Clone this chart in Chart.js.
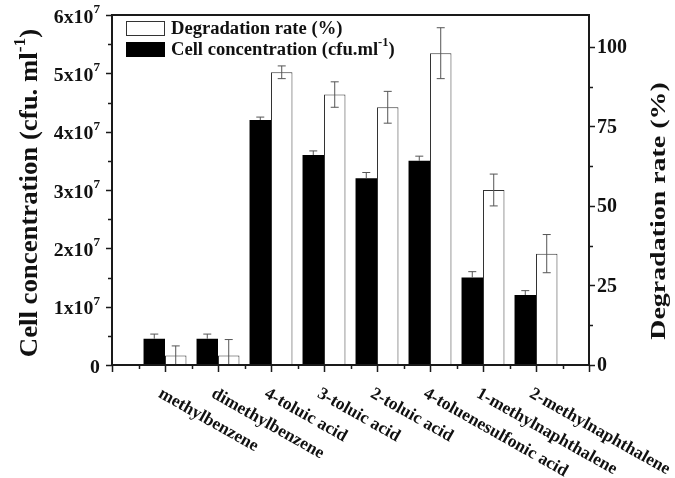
<!DOCTYPE html>
<html>
<head>
<meta charset="utf-8">
<script src="https://cdn.jsdelivr.net/npm/chart.js@4.4.1/dist/chart.umd.min.js"></script>
<style>
  body { margin: 0; background: #fff; }
  canvas { display: block; }
</style>
</head>
<body>
<canvas id="degChart" width="675" height="478"></canvas>
<script>
const categories = ['methylbenzene', 'dimethylbenzene', '4-toluic acid', '3-toluic acid',
    '2-toluic acid', '4-toluenesulfonic acid', '1-methylnaphthalene', '2-methylnaphthalene'];
const cellConc = [4.5e6, 4.5e6, 4.2e7, 3.6e7, 3.2e7, 3.5e7, 1.5e7, 1.2e7];
const cellErr = [0.8e6, 0.8e6, 0.5e6, 0.7e6, 1.0e6, 0.8e6, 1.0e6, 0.75e6];
const degradation = [3, 3, 92, 85, 81, 98, 55, 35];
const degErr = [3, 5, 2, 4, 5, 8, 5, 6];
const leftTicks = [0, 1e7, 2e7, 3e7, 4e7, 5e7, 6e7];
const leftTickLabels = ['0', '1x10', '2x10', '3x10', '4x10', '5x10', '6x10'];
const rightTicks = [0, 25, 50, 75, 100];

const SERIF = '"Liberation Serif", "Times New Roman", serif';
const FRAME = '#1a1a1a';

// labels padded with an empty slot each side so bars sit one step in from the frame
const labels = ['', ...categories, ''];
const pad = arr => [null, ...arr, null];

// draws a run of text pieces (some raised as superscripts), left to right
function drawParts(ctx, parts, x, y) {
    let cx = x;
    parts.forEach(p => {
        ctx.font = 'bold ' + p.size + 'px ' + SERIF;
        ctx.fillText(p.t, cx, y + (p.dy || 0));
        cx += ctx.measureText(p.t).width;
    });
    return cx - x;
}
function partsWidth(ctx, parts) {
    let w = 0;
    parts.forEach(p => {
        ctx.font = 'bold ' + p.size + 'px ' + SERIF;
        w += ctx.measureText(p.t).width;
    });
    return w;
}

const decor = {
    id: 'decor',
    afterDatasetsDraw(chart) {
        const ctx = chart.ctx;
        const x = chart.scales.x, y = chart.scales.y, y1 = chart.scales.y1;
        const area = chart.chartArea;

        // error bars
        ctx.save();
        ctx.strokeStyle = '#555';
        ctx.lineWidth = 1;
        const cellMeta = chart.getDatasetMeta(0), degMeta = chart.getDatasetMeta(1);
        categories.forEach((c, i) => {
            const bc = cellMeta.data[i + 1];
            const topC = y.getPixelForValue(cellConc[i] + cellErr[i]);
            const baseC = y.getPixelForValue(cellConc[i]);
            ctx.beginPath();
            ctx.moveTo(bc.x, baseC); ctx.lineTo(bc.x, topC);
            ctx.moveTo(bc.x - 4, topC); ctx.lineTo(bc.x + 4, topC);
            ctx.stroke();

            const bd = degMeta.data[i + 1];
            const hi = y1.getPixelForValue(degradation[i] + degErr[i]);
            const lo = y1.getPixelForValue(Math.max(0, degradation[i] - degErr[i]));
            ctx.beginPath();
            ctx.moveTo(bd.x, lo); ctx.lineTo(bd.x, hi);
            ctx.moveTo(bd.x - 4, hi); ctx.lineTo(bd.x + 4, hi);
            if (degradation[i] - degErr[i] > 0) {
                ctx.moveTo(bd.x - 4, lo); ctx.lineTo(bd.x + 4, lo);
            }
            ctx.stroke();
        });
        ctx.restore();

        // frame
        ctx.save();
        ctx.strokeStyle = FRAME;
        ctx.lineWidth = 2;
        ctx.strokeRect(area.left, area.top, area.right - area.left, area.bottom - area.top);

        // ticks
        ctx.lineWidth = 1.5;
        ctx.beginPath();
        for (let v = 0; v <= 6e7; v += 0.5e7) {
            const py = Math.round(y.getPixelForValue(v)) + 0.5;
            const len = (v % 1e7 === 0) ? 6 : 4;
            ctx.moveTo(area.left, py); ctx.lineTo(area.left - len, py);
        }
        for (let v = 0; v <= 100; v += 12.5) {
            const py = Math.round(y1.getPixelForValue(v)) + 0.5;
            const len = (v % 25 === 0) ? 6 : 4;
            ctx.moveTo(area.right, py); ctx.lineTo(area.right + len, py);
        }
        for (let k = 0; k < labels.length; k++) {
            const px = Math.round(x.getPixelForValue(k)) + 0.5;
            ctx.moveTo(px, area.bottom); ctx.lineTo(px, area.bottom + 7);
            if (k < labels.length - 1) {
                const mx = Math.round((x.getPixelForValue(k) + x.getPixelForValue(k + 1)) / 2) + 0.5;
                ctx.moveTo(mx, area.bottom); ctx.lineTo(mx, area.bottom + 4);
            }
        }
        ctx.stroke();

        ctx.fillStyle = '#111';
        ctx.textBaseline = 'middle';
        // left tick labels with superscript exponent
        leftTicks.forEach((v, i) => {
            const py = y.getPixelForValue(v) + 3;
            const parts = v === 0 ? [{ t: '0', size: 18 }]
                : [{ t: leftTickLabels[i], size: 18 }, { t: '7', size: 12, dy: -8 }];
            ctx.save();
            ctx.translate(100, py);
            ctx.scale(1.1, 1);
            const w = partsWidth(ctx, parts);
            drawParts(ctx, parts, -w, 0);
            ctx.restore();
        });
        // right tick labels
        ctx.font = 'bold 20px ' + SERIF;
        ctx.textAlign = 'left';
        rightTicks.forEach(v => {
            ctx.fillText(String(v), area.right + 8, y1.getPixelForValue(v) + 1);
        });

        // category labels, slanted down to the right
        ctx.textBaseline = 'top';
        categories.forEach((c, i) => {
            const px = x.getPixelForValue(i + 1);
            ctx.save();
            ctx.translate(px - 1, area.bottom + 20);
            ctx.rotate(29.5 * Math.PI / 180);
            ctx.font = 'bold 17.5px ' + SERIF;
            ctx.fillText(c, 0, 0);
            ctx.restore();
        });

        // axis titles
        ctx.textBaseline = 'alphabetic';
        const leftTitle = [{ t: 'Cell concentration (cfu. ml', size: 26 }, { t: '-1', size: 17, dy: -12 }, { t: ')', size: 26 }];
        ctx.save();
        ctx.translate(37, (area.top + area.bottom) / 2 + 3);
        ctx.rotate(-Math.PI / 2);
        ctx.scale(1.03, 1);
        drawParts(ctx, leftTitle, -partsWidth(ctx, leftTitle) / 2, 0);
        ctx.restore();

        const rightTitle = [{ t: 'Degradation rate (%)', size: 22 }];
        ctx.save();
        ctx.translate(665, (area.top + area.bottom) / 2 + 21);
        ctx.rotate(-Math.PI / 2);
        ctx.scale(1.27, 1);
        drawParts(ctx, rightTitle, -partsWidth(ctx, rightTitle) / 2, 0);
        ctx.restore();

        // legend
        ctx.lineWidth = 1;
        ctx.strokeStyle = '#333';
        ctx.fillStyle = '#fff';
        ctx.fillRect(126.5, 21.5, 38, 14);
        ctx.strokeRect(126.5, 21.5, 38, 14);
        ctx.fillStyle = '#000';
        ctx.fillRect(126, 42, 39, 15);
        ctx.fillStyle = '#111';
        ctx.textBaseline = 'middle';
        drawParts(ctx, [{ t: 'Degradation rate (%)', size: 18.6 }], 171, 29);
        drawParts(ctx, [{ t: 'Cell concentration (cfu.ml', size: 18.6 }, { t: '-1', size: 12.5, dy: -7 }, { t: ')', size: 18.6 }], 171, 50);
        ctx.restore();
    }
};

new Chart(document.getElementById('degChart'), {
    type: 'bar',
    data: {
        labels: labels,
        datasets: [{
            label: 'Cell concentration (cfu.ml-1)',
            data: pad(cellConc),
            backgroundColor: '#000',
            borderWidth: 0,
            yAxisID: 'y'
        }, {
            label: 'Degradation rate (%)',
            data: pad(degradation),
            backgroundColor: '#fff',
            borderColor: '#333',
            borderWidth: 1,
            yAxisID: 'y1'
        }]
    },
    options: {
        responsive: false,
        animation: false,
        devicePixelRatio: 1,
        layout: { padding: { left: 112, right: 86, top: 15, bottom: 113 } },
        datasets: { bar: { categoryPercentage: 0.81, barPercentage: 1 } },
        plugins: { legend: { display: false }, tooltip: { enabled: false } },
        scales: {
            x: { display: false, offset: false },
            y: { display: false, min: 0, max: 6e7 },
            y1: { display: false, position: 'right', min: 0, max: 110 }
        }
    },
    plugins: [decor]
});
</script>
</body>
</html>
